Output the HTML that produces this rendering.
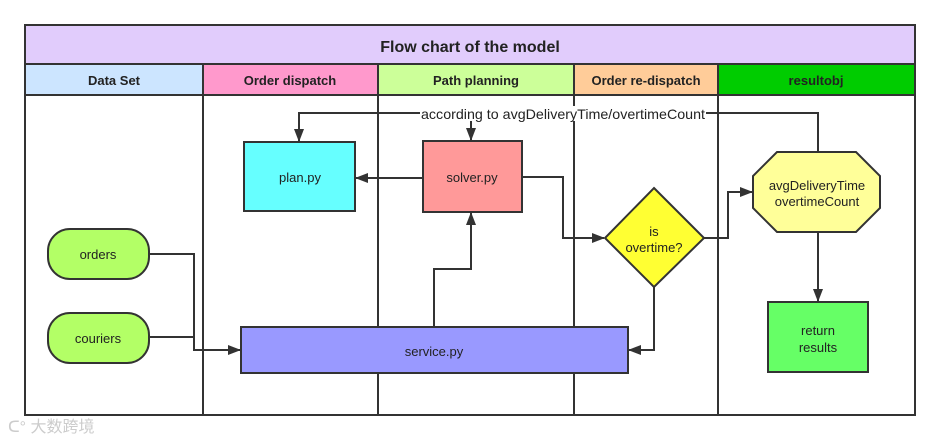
<!DOCTYPE html>
<html><head><meta charset="utf-8"><style>
body{margin:0;background:#fff;width:941px;height:441px;overflow:hidden}
svg text{font-family:"Liberation Sans",sans-serif;fill:#222}
</style></head><body>
<svg width="941" height="441" viewBox="0 0 941 441">
<defs><marker id="a" markerWidth="13" markerHeight="10" refX="12" refY="5" orient="auto" markerUnits="userSpaceOnUse"><path d="M0,0L13,5L0,10z" fill="#333"/></marker></defs>
<rect x="25" y="25" width="890" height="39" fill="#e1ccfc"/>
<rect x="25" y="64" width="178" height="31" fill="#cce5ff"/>
<rect x="203" y="64" width="175" height="31" fill="#ff99cc"/>
<rect x="378" y="64" width="196" height="31" fill="#ccff99"/>
<rect x="574" y="64" width="144" height="31" fill="#ffcc99"/>
<rect x="718" y="64" width="197" height="31" fill="#00cc00"/>
<g stroke="#333" stroke-width="2" fill="none">
<rect x="25" y="25" width="890" height="390"/>
<line x1="25" y1="64" x2="915" y2="64"/><line x1="25" y1="95" x2="915" y2="95"/>
<line x1="203" y1="64" x2="203" y2="415"/><line x1="378" y1="64" x2="378" y2="415"/>
<line x1="574" y1="64" x2="574" y2="415"/><line x1="718" y1="64" x2="718" y2="415"/>
</g>
<g font-weight="bold" font-size="13" text-anchor="middle">
<text x="470" y="52" font-size="16">Flow chart of the model</text>
<text x="114" y="85">Data Set</text><text x="290" y="85">Order dispatch</text>
<text x="476" y="85">Path planning</text><text x="646" y="85">Order re-dispatch</text>
<text x="816" y="85">resultobj</text></g>
<g stroke="#333" stroke-width="2">
<rect x="244" y="142" width="111" height="69" fill="#66ffff"/>
<rect x="423" y="141" width="99" height="71" fill="#ff9999"/>
<polygon points="654,188 704,238 654,287 605,238" fill="#ffff33"/>
<polygon points="777,152 856,152 880,176 880,208 856,232 777,232 753,208 753,176" fill="#ffff99"/>
<rect x="768" y="302" width="100" height="70" fill="#66ff66"/>
<rect x="48" y="229" width="101" height="50" rx="22" fill="#b3ff66"/>
<rect x="48" y="313" width="101" height="50" rx="22" fill="#b3ff66"/>
<rect x="241" y="327" width="387" height="46" fill="#9999ff"/>
</g>
<g stroke="#333" stroke-width="2" fill="none">
<polyline points="149,254 194,254 194,350 240,350" marker-end="url(#a)"/>
<polyline points="149,337 194,337"/>
<polyline points="434,327 434,269 471,269 471,213" marker-end="url(#a)"/>
<polyline points="522,177 563,177 563,238 604,238" marker-end="url(#a)"/>
<polyline points="704,238 728,238 728,192 752,192" marker-end="url(#a)"/>
<polyline points="818,152 818,113 706,113"/>
<polyline points="420,113 299,113 299,141" marker-end="url(#a)"/>
<polyline points="471,113 471,140" marker-end="url(#a)"/>
<polyline points="818,232 818,301" marker-end="url(#a)"/>
<polyline points="654,287 654,350 629,350" marker-end="url(#a)"/>
<polyline points="423,178 356,178" marker-end="url(#a)"/>
</g>
<rect x="421" y="106" width="285" height="15" fill="#fff"/>
<g font-size="13" text-anchor="middle">
<text x="563" y="119" font-size="14" textLength="284" lengthAdjust="spacingAndGlyphs">according to avgDeliveryTime/overtimeCount</text>
<text x="300" y="182">plan.py</text><text x="472" y="182">solver.py</text>
<text x="654" y="236">is</text><text x="654" y="252">overtime?</text>
<text x="817" y="190">avgDeliveryTime</text><text x="817" y="206">overtimeCount</text>
<text x="818" y="335">return</text><text x="818" y="352">results</text>
<text x="98" y="259">orders</text><text x="98" y="343">couriers</text>
<text x="434" y="356">service.py</text>
</g>
<text x="8" y="432" font-size="16" style="fill:#ccc">ᑕ° 大数跨境</text>
</svg>
</body></html>
